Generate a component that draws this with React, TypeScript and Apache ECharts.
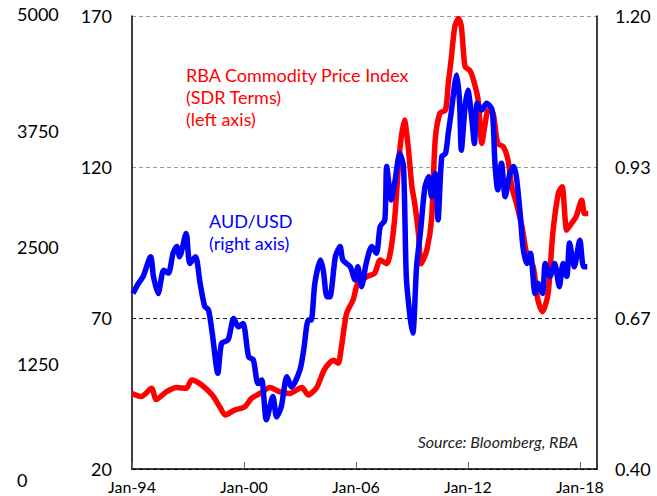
import React, { useEffect, useRef } from "react";
import * as echarts from "echarts";

// Decimal years
const rbaDates = [1994.0, 1994.5, 1995.05, 1995.3, 1995.85, 1996.4, 1996.9, 1997.2, 1997.7, 1998.3, 1998.7, 1999.0, 1999.5, 2000.05, 2000.4, 2000.85, 2001.4, 2001.9, 2002.45, 2003.1, 2003.45, 2003.9, 2004.3, 2004.8, 2005.05, 2005.2, 2005.5, 2005.85, 2006.1, 2006.6, 2007.0, 2007.3, 2007.65, 2007.9, 2008.1, 2008.35, 2008.6, 2008.8, 2009.0, 2009.15, 2009.35, 2009.5, 2009.8, 2010.05, 2010.25, 2010.5, 2010.8, 2010.95, 2011.1, 2011.3, 2011.5, 2011.65, 2011.85, 2012.1, 2012.3, 2012.55, 2012.75, 2012.9, 2013.1, 2013.35, 2013.6, 2013.9, 2014.15, 2014.35, 2014.6, 2014.9, 2015.15, 2015.5, 2015.75, 2016.0, 2016.3, 2016.55, 2016.85, 2017.05, 2017.3, 2017.55, 2017.8, 2018.1, 2018.25, 2018.45];
const rbaValues = [45, 44, 46.7, 43, 45.6, 47, 46.7, 49.5, 48, 44.5, 40.6, 37.9, 39.5, 40.6, 43.4, 45, 47, 45.6, 45, 47, 44.5, 47, 52.8, 56, 55, 59.4, 71.5, 76, 81.5, 83.7, 84.8, 89.2, 88, 93.6, 104.6, 125.6, 135.6, 126.7, 113.5, 108, 98, 88, 92.5, 102.5, 129, 137.8, 138.9, 147.7, 155.4, 166.5, 169.2, 166.5, 153.2, 152, 148.8, 142.2, 127.8, 133.4, 138.9, 137.8, 127.8, 126.7, 122.3, 113.5, 108, 100.2, 91.4, 87, 76, 72.1, 78.2, 98, 111.3, 113.5, 99.1, 101.3, 103.6, 109, 104.6, 104.6];

const audDates = [1994.05, 1994.35, 1994.6, 1995.0, 1995.15, 1995.4, 1995.7, 1995.95, 1996.2, 1996.4, 1996.55, 1996.9, 1997.1, 1997.4, 1997.65, 1997.9, 1998.1, 1998.3, 1998.6, 1998.8, 1999.15, 1999.45, 1999.7, 1999.95, 2000.25, 2000.5, 2000.75, 2000.95, 2001.2, 2001.55, 2001.75, 2002.0, 2002.3, 2002.55, 2003.0, 2003.2, 2003.45, 2003.6, 2003.8, 2004.1, 2004.25, 2004.45, 2004.6, 2004.9, 2005.15, 2005.3, 2005.7, 2005.95, 2006.1, 2006.3, 2006.55, 2006.85, 2007.1, 2007.3, 2007.55, 2007.65, 2007.9, 2008.1, 2008.35, 2008.55, 2008.7, 2008.9, 2009.05, 2009.25, 2009.45, 2009.7, 2009.9, 2010.05, 2010.25, 2010.4, 2010.6, 2010.8, 2010.95, 2011.1, 2011.3, 2011.4, 2011.55, 2011.65, 2011.85, 2012.0, 2012.2, 2012.35, 2012.5, 2012.75, 2013.0, 2013.3, 2013.45, 2013.6, 2013.8, 2014.0, 2014.25, 2014.45, 2014.6, 2014.8, 2014.95, 2015.15, 2015.35, 2015.6, 2015.75, 2016.0, 2016.15, 2016.4, 2016.65, 2016.9, 2017.1, 2017.3, 2017.45, 2017.7, 2018.0, 2018.2, 2018.4];
const audValues = [0.71, 0.728, 0.74, 0.775, 0.74, 0.71, 0.751, 0.746, 0.781, 0.793, 0.775, 0.816, 0.763, 0.775, 0.728, 0.687, 0.681, 0.64, 0.569, 0.622, 0.628, 0.666, 0.651, 0.657, 0.598, 0.593, 0.551, 0.557, 0.487, 0.528, 0.492, 0.51, 0.563, 0.545, 0.575, 0.61, 0.663, 0.663, 0.728, 0.769, 0.751, 0.704, 0.704, 0.775, 0.793, 0.769, 0.757, 0.734, 0.757, 0.722, 0.763, 0.793, 0.781, 0.828, 0.84, 0.934, 0.875, 0.91, 0.957, 0.934, 0.74, 0.669, 0.64, 0.757, 0.816, 0.898, 0.916, 0.881, 0.922, 0.84, 0.952, 0.957, 0.993, 1.028, 1.081, 1.096, 1.052, 0.963, 1.04, 1.069, 1.022, 0.975, 1.046, 1.034, 1.046, 1.034, 0.94, 0.893, 0.94, 0.881, 0.922, 0.934, 0.916, 0.852, 0.793, 0.763, 0.781, 0.71, 0.728, 0.71, 0.763, 0.74, 0.763, 0.722, 0.763, 0.74, 0.799, 0.757, 0.804, 0.757, 0.757];

const xTickYears = [1994, 2000, 2006, 2012, 2018];
const leftTicks = [20, 70, 120, 170];
const rightTicks = [0.4, 0.8 / 3 + 0.4, 1.6 / 3 + 0.4, 1.2];
const farLeftTicks = [0, 1250, 2500, 3750, 5000];

const FONT = "Lato";

export default function App() {
  const ref = useRef<HTMLDivElement>(null);
  useEffect(() => {
    if (!ref.current) return;
    const chart = echarts.init(ref.current, undefined, { renderer: "svg" });
    const rbaData = rbaDates.map((d, i) => [d, rbaValues[i]]);
    const audData = audDates.map((d, i) => [d, audValues[i]]);
    chart.setOption({
      animation: false,
      textStyle: { fontFamily: FONT },
      grid: [
        { left: 132, right: 60, top: 16, bottom: 27, containLabel: false },
        { left: 132, right: 60, top: 14, bottom: 16, containLabel: false },
      ],
      xAxis: [
        {
          type: "value",
          gridIndex: 0,
          min: 1994,
          max: 2018.92,
          axisLine: { show: true, lineStyle: { color: "#000", width: 1.5 } },
          axisTick: {
            show: true,
            inside: true,
            length: 7,
            customValues: xTickYears,
            lineStyle: { color: "#666", width: 1 },
          },
          axisLabel: {
            customValues: xTickYears,
            formatter: (v: number) => "Jan-" + String(Math.round(v)).slice(2),
            color: "#000",
            fontSize: 16,
            fontFamily: FONT,
            margin: 9,
          },
          splitLine: { show: false },
        },
        { type: "value", gridIndex: 1, min: 0, max: 1, show: false },
      ],
      yAxis: [
        {
          type: "value",
          gridIndex: 0,
          position: "left",
          min: 20,
          max: 170,
          axisLine: { show: true, lineStyle: { color: "#000", width: 1.5 } },
          axisTick: { show: false, customValues: leftTicks },
          axisLabel: {
            customValues: leftTicks,
            color: "#000",
            fontSize: 18,
            fontFamily: FONT,
            margin: 20,
          },
          splitLine: {
            show: true,
            lineStyle: { color: ["#000", "#222", "#999", "#999"], type: [4, 3], width: 1 },
          },
        },
        {
          type: "value",
          gridIndex: 0,
          position: "right",
          min: 0.4,
          max: 1.2,
          axisLine: { show: true, lineStyle: { color: "#000", width: 1.5 } },
          axisTick: { show: false, customValues: rightTicks },
          axisLabel: {
            customValues: rightTicks,
            formatter: (v: number) => v.toFixed(2),
            color: "#000",
            fontSize: 18,
            fontFamily: FONT,
            margin: 18,
          },
          splitLine: { show: false },
        },
        {
          type: "value",
          gridIndex: 1,
          position: "left",
          min: 0,
          max: 5000,
          axisLine: { show: false },
          axisTick: { show: false, customValues: farLeftTicks },
          axisLabel: {
            customValues: farLeftTicks,
            formatter: (v: number) => String(Math.round(v)),
            align: "left",
            color: "#000",
            fontSize: 18,
            fontFamily: FONT,
            margin: 115,
          },
          splitLine: { show: false },
        },
      ],
      series: [
        {
          name: "RBA Commodity Price Index",
          type: "line",
          xAxisIndex: 0,
          yAxisIndex: 0,
          data: rbaData,
          showSymbol: false,
          smooth: 0.25,
          lineStyle: { color: "#FF0000", width: 5.5 },
          z: 2,
        },
        {
          name: "AUD/USD",
          type: "line",
          xAxisIndex: 0,
          yAxisIndex: 1,
          data: audData,
          showSymbol: false,
          smooth: 0.25,
          lineStyle: { color: "#0000FF", width: 5.5 },
          z: 3,
        },
      ],
      graphic: [
        {
          type: "text",
          left: 186,
          top: 64,
          style: {
            text: "RBA Commodity Price Index\n(SDR Terms)\n(left axis)",
            fill: "#FF0000",
            font: `18px ${FONT}`,
            lineHeight: 22,
          },
        },
        {
          type: "text",
          left: 209,
          top: 210,
          style: {
            text: "AUD/USD\n(right axis)",
            fill: "#0000FF",
            font: `18px ${FONT}`,
            lineHeight: 22,
          },
        },
        {
          type: "text",
          right: 79,
          top: 433,
          style: {
            text: "Source: Bloomberg, RBA",
            fill: "#222",
            font: `italic 16px ${FONT}`,
          },
        },
      ],
    });
    return () => chart.dispose();
  }, []);
  return <div ref={ref} style={{ width: 657, height: 496, position: "absolute", left: 0, top: 0 }} />;
}
